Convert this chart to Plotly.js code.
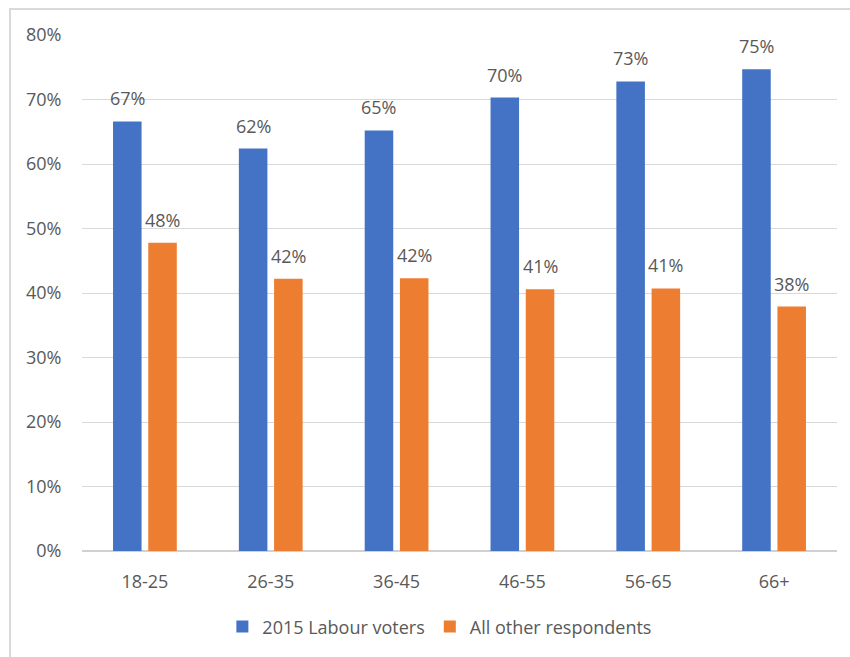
<!DOCTYPE html>
<html>
<head>
<meta charset="utf-8">
<script src="https://cdn.plot.ly/plotly-3.0.1.min.js"></script>
<style>
  html, body { margin: 0; padding: 0; background: #ffffff; }
  #wrap { position: relative; width: 850px; height: 657px; overflow: hidden; }
  #chart { width: 850px; height: 657px; }
  #frame { position: absolute; left: 9px; top: 8px; width: 900px; height: 700px;
           border-left: 2px solid #d9d9d9; border-top: 2px solid #d9d9d9; pointer-events: none; }
</style>
</head>
<body>
<div id="wrap">
  <div id="chart"></div>
  <div id="frame"></div>
</div>
<script>
const categories = ['18-25', '26-35', '36-45', '46-55', '56-65', '66+'];
const seriesNames = ['2015 Labour voters', 'All other respondents'];
const labourVoters = [0.666, 0.624, 0.652, 0.703, 0.728, 0.747];
const otherRespondents = [0.478, 0.422, 0.423, 0.406, 0.407, 0.379];
const yTickValues = [0, 0.1, 0.2, 0.3, 0.4, 0.5, 0.6, 0.7, 0.8];
const yTickLabels = ['0%', '10%', '20%', '30%', '40%', '50%', '60%', '70%', '80%'];

const FONT = 'Open Sans, Noto Sans, sans-serif';
const TEXT = '#595959';
const BLUE = '#4472C4';
const ORANGE = '#ED7D31';

const traces = [
  { type: 'bar', name: seriesNames[0], x: categories, y: labourVoters,
    marker: { color: BLUE }, hoverinfo: 'x+y' },
  { type: 'bar', name: seriesNames[1], x: categories, y: otherRespondents,
    marker: { color: ORANGE }, hoverinfo: 'x+y' }
];

const pct = v => Math.round(v * 100) + '%';
const annotations = [];
[[labourVoters, -17.6], [otherRespondents, 17.6]].forEach(([vals, dx]) => {
  vals.forEach((v, i) => {
    annotations.push({
      x: categories[i], y: v, xref: 'x', yref: 'y',
      text: pct(v), showarrow: false,
      xanchor: 'center', yanchor: 'bottom',
      xshift: dx, yshift: 9,
      font: { family: FONT, size: 18, color: TEXT }
    });
  });
});

const layout = {
  width: 850, height: 657,
  margin: { l: 82, r: 13, t: 35, b: 104 },
  paper_bgcolor: '#ffffff', plot_bgcolor: '#ffffff',
  barmode: 'group', bargap: 0.44, bargroupgap: 0.19,
  font: { family: FONT, size: 18, color: TEXT },
  xaxis: {
    type: 'category', showgrid: false, showline: false, zeroline: false,
    ticks: 'outside', ticklen: 14, tickcolor: 'rgba(0,0,0,0)',
    tickfont: { family: FONT, size: 18, color: TEXT }
  },
  yaxis: {
    range: [0, 0.8], tickvals: yTickValues, ticktext: yTickLabels,
    showgrid: true, gridcolor: '#d9d9d9', gridwidth: 1,
    zeroline: true, zerolinecolor: '#d0d0d0', zerolinewidth: 1.5,
    showline: false,
    ticks: 'outside', ticklen: 16, tickcolor: 'rgba(0,0,0,0)',
    tickfont: { family: FONT, size: 18, color: TEXT }
  },
  showlegend: true,
  legend: {
    orientation: 'h', x: 0.474, xanchor: 'center', y: -0.147, yanchor: 'middle',
    font: { family: FONT, size: 18, color: TEXT }, traceorder: 'normal',
    itemwidth: 30
  },
  annotations: annotations
};

Plotly.newPlot('chart', traces, layout, { displayModeBar: false, staticPlot: true });
</script>
</body>
</html>
